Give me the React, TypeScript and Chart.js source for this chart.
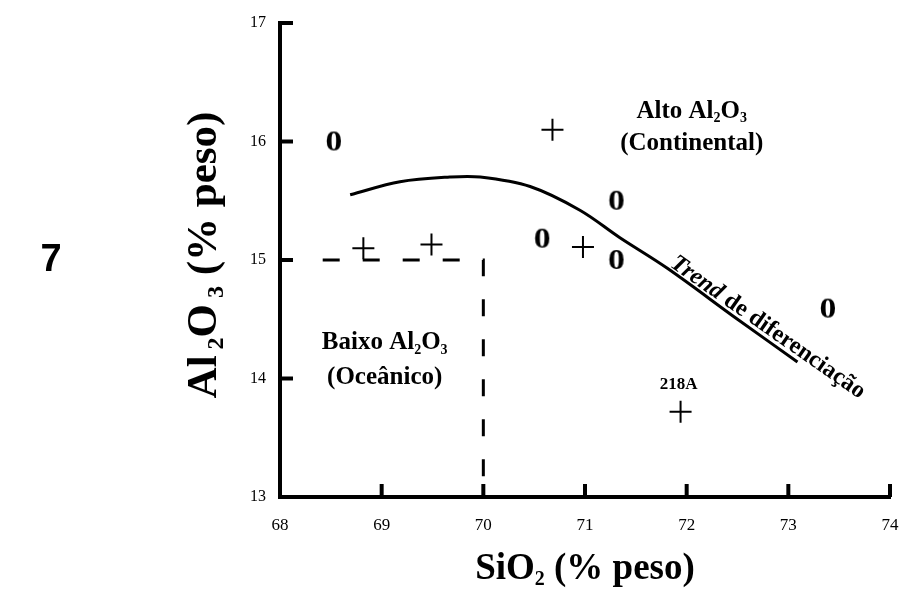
import React, { useEffect, useRef } from "react";
import { Chart, registerables } from "chart.js";

Chart.register(...registerables);

// ---- data ----
const X_TICKS = [68, 69, 70, 71, 72, 73, 74];
const Y_TICKS = [13, 14, 15, 16, 17];

// samples plotted as "0"
const zeroX = [68.53, 71.31, 70.58, 71.31, 73.39];
const zeroY = [16.0, 15.5, 15.18, 15.0, 14.59];

// samples plotted as "+"
const plusX = [70.68, 70.98, 71.94, 68.82, 69.49];
const plusY = [16.1, 15.11, 13.72, 15.1, 15.13];
const plusLabels = ["", "", "218A", "", ""];

// differentiation trend curve
const trendX = [68.69, 69.18, 69.67, 69.97, 70.46, 70.95, 71.34, 71.81, 72.5, 73.09];
const trendY = [15.55, 15.66, 15.7, 15.7, 15.62, 15.42, 15.19, 14.93, 14.5, 14.14];

// low-Al2O3 (oceanic) field boundary
const boundX = [68.42, 70.0, 70.0];
const boundY = [15.0, 15.0, 13.0];

const SERIF = "'Liberation Serif', 'Times New Roman', serif";

type Seg = { t: string; sub?: boolean };

function richWidth(ctx: CanvasRenderingContext2D, segs: Seg[], size: number, style: string) {
  let w = 0;
  for (const s of segs) {
    ctx.font = `${style} ${s.sub ? Math.round(size * 0.55) : size}px ${SERIF}`;
    w += ctx.measureText(s.t).width;
  }
  return w;
}

function drawRich(ctx: CanvasRenderingContext2D, segs: Seg[], cx: number, cy: number, size: number, style = "bold") {
  const w = richWidth(ctx, segs, size, style);
  let x = cx - w / 2;
  ctx.textBaseline = "middle";
  ctx.textAlign = "left";
  for (const s of segs) {
    const fs = s.sub ? Math.round(size * 0.55) : size;
    ctx.font = `${style} ${fs}px ${SERIF}`;
    ctx.fillText(s.t, x, s.sub ? cy + size * 0.28 : cy);
    x += ctx.measureText(s.t).width;
  }
}

function makeZero(): HTMLCanvasElement {
  const c = document.createElement("canvas");
  c.width = 26;
  c.height = 32;
  const g = c.getContext("2d")!;
  g.fillStyle = "#000";
  g.translate(13, 17);
  g.scale(1.12, 1);
  g.font = `bold 30px ${SERIF}`;
  g.textAlign = "center";
  g.textBaseline = "middle";
  g.fillText("0", 0, 0);
  return c;
}

const decor = {
  id: "decor",
  afterDatasetsDraw(chart: any) {
    const { ctx, scales } = chart;
    const xs = scales.x;
    const ys = scales.y;
    ctx.save();
    ctx.fillStyle = "#000";
    ctx.strokeStyle = "#000";

    // inward tick marks
    ctx.lineWidth = 4;
    ctx.lineCap = "butt";
    const bottom = ys.getPixelForValue(13);
    const left = xs.getPixelForValue(68);
    for (const v of X_TICKS) {
      const px = xs.getPixelForValue(v);
      ctx.beginPath();
      ctx.moveTo(px, bottom);
      ctx.lineTo(px, bottom - 13);
      ctx.stroke();
    }
    for (const v of Y_TICKS) {
      const py = ys.getPixelForValue(v);
      ctx.beginPath();
      ctx.moveTo(left, py);
      ctx.lineTo(left + 13, py);
      ctx.stroke();
    }

    // field labels
    drawRich(ctx, [{ t: "Alto Al" }, { t: "2", sub: true }, { t: "O" }, { t: "3", sub: true }],
      xs.getPixelForValue(72.05), ys.getPixelForValue(16.25), 25);
    drawRich(ctx, [{ t: "(Continental)" }], xs.getPixelForValue(72.05), ys.getPixelForValue(15.98), 25);
    drawRich(ctx, [{ t: "Baixo Al" }, { t: "2", sub: true }, { t: "O" }, { t: "3", sub: true }],
      xs.getPixelForValue(69.03), ys.getPixelForValue(14.3), 25);
    drawRich(ctx, [{ t: "(Oceânico)" }], xs.getPixelForValue(69.03), ys.getPixelForValue(14.01), 25);

    // sample label
    for (let i = 0; i < plusLabels.length; i++) {
      if (!plusLabels[i]) continue;
      ctx.font = `bold 17px ${SERIF}`;
      ctx.textAlign = "center";
      ctx.textBaseline = "middle";
      ctx.fillText(plusLabels[i], xs.getPixelForValue(plusX[i]) - 2, ys.getPixelForValue(plusY[i]) - 27);
    }

    // trend label along the curve
    const ax = xs.getPixelForValue(trendX[6]);
    const ay = ys.getPixelForValue(trendY[6]);
    const bx = xs.getPixelForValue(trendX[9]);
    const by = ys.getPixelForValue(trendY[9]);
    const ang = Math.atan2(by - ay, bx - ax);
    const sx = xs.getPixelForValue(71.8);
    const sy = ay + (sx - ax) * Math.tan(ang);
    ctx.save();
    ctx.translate(sx, sy);
    ctx.rotate(ang);
    ctx.textAlign = "left";
    ctx.textBaseline = "alphabetic";
    ctx.font = `italic bold 24px ${SERIF}`;
    ctx.fillText("Trend", 0, -5);
    const w1 = ctx.measureText("Trend ").width;
    ctx.font = `bold 24px ${SERIF}`;
    ctx.fillText("de diferenciação", w1, -5);
    ctx.restore();

    // axis titles
    drawRich(ctx, [{ t: "SiO" }, { t: "2", sub: true }, { t: " (% peso)" }],
      (xs.left + xs.right) / 2, 569, 37);
    ctx.save();
    ctx.translate(205, 255);
    ctx.rotate(-Math.PI / 2);
    drawRich(ctx, [{ t: "Al" }, { t: " 2", sub: true }, { t: "O" }, { t: " 3", sub: true }, { t: " (% peso)" }],
      0, 0, 43);
    ctx.restore();

    // figure number
    ctx.font = "bold 38px 'Liberation Sans', Arial, sans-serif";
    ctx.textAlign = "center";
    ctx.textBaseline = "middle";
    ctx.fillText("7", 51, 261);
    ctx.restore();
  },
};

export default function App() {
  const ref = useRef<HTMLCanvasElement | null>(null);
  useEffect(() => {
    if (!ref.current) return;
    const zero = makeZero();
    const chart = new Chart(ref.current, {
      type: "scatter",
      data: {
        datasets: [
          {
            label: "Trend",
            data: trendX.map((x, i) => ({ x, y: trendY[i] })),
            showLine: true,
            borderColor: "#000",
            borderWidth: 3,
            pointRadius: 0,
            tension: 0.35,
          } as any,
          {
            label: "Limite",
            data: boundX.map((x, i) => ({ x, y: boundY[i] })),
            showLine: true,
            borderColor: "#000",
            borderWidth: 3,
            borderDash: [17, 23],
            pointRadius: 0,
            tension: 0,
          },
          {
            label: "0",
            data: zeroX.map((x, i) => ({ x, y: zeroY[i] })),
            pointStyle: zero as any,
            pointRadius: 12,
            backgroundColor: "#000",
            borderColor: "#000",
          },
          {
            label: "+",
            data: plusX.map((x, i) => ({ x, y: plusY[i] })),
            pointStyle: "cross",
            pointRadius: 11,
            borderWidth: 2,
            borderColor: "#000",
            backgroundColor: "#000",
          },
        ],
      },
      options: {
        animation: false,
        responsive: false,
        maintainAspectRatio: false,
        layout: { padding: { top: 23, right: 17, left: 0, bottom: 0 } },
        plugins: { legend: { display: false }, tooltip: { enabled: false } },
        scales: {
          x: {
            type: "linear",
            min: 68,
            max: 74,
            afterBuildTicks: (s: any) => {
              s.ticks = X_TICKS.map((v) => ({ value: v }));
            },
            afterFit: (s: any) => {
              s.height = 96;
              s.paddingLeft = 0;
              s.paddingRight = 0;
            },
            grid: { display: false, drawTicks: false },
            border: { display: true, width: 4, color: "#000" },
            ticks: {
              padding: 18,
              color: "#000",
              font: { family: SERIF, size: 17 },
            },
          },
          y: {
            type: "linear",
            min: 13,
            max: 17,
            afterBuildTicks: (s: any) => {
              s.ticks = Y_TICKS.map((v) => ({ value: v }));
            },
            afterFit: (s: any) => {
              s.width = 280;
              s.paddingTop = 0;
              s.paddingBottom = 0;
            },
            grid: { display: false, drawTicks: false },
            border: { display: true, width: 4, color: "#000" },
            ticks: {
              padding: 14,
              color: "#000",
              font: { family: SERIF, size: 16 },
            },
          },
        },
      },
      plugins: [decor],
    });
    return () => chart.destroy();
  }, []);
  return (
    <div style={{ position: "absolute", left: 0, top: 0, width: 907, height: 593, overflow: "hidden" }}>
      <canvas ref={ref} width={907} height={593} style={{ display: "block" }} />
    </div>
  );
}
